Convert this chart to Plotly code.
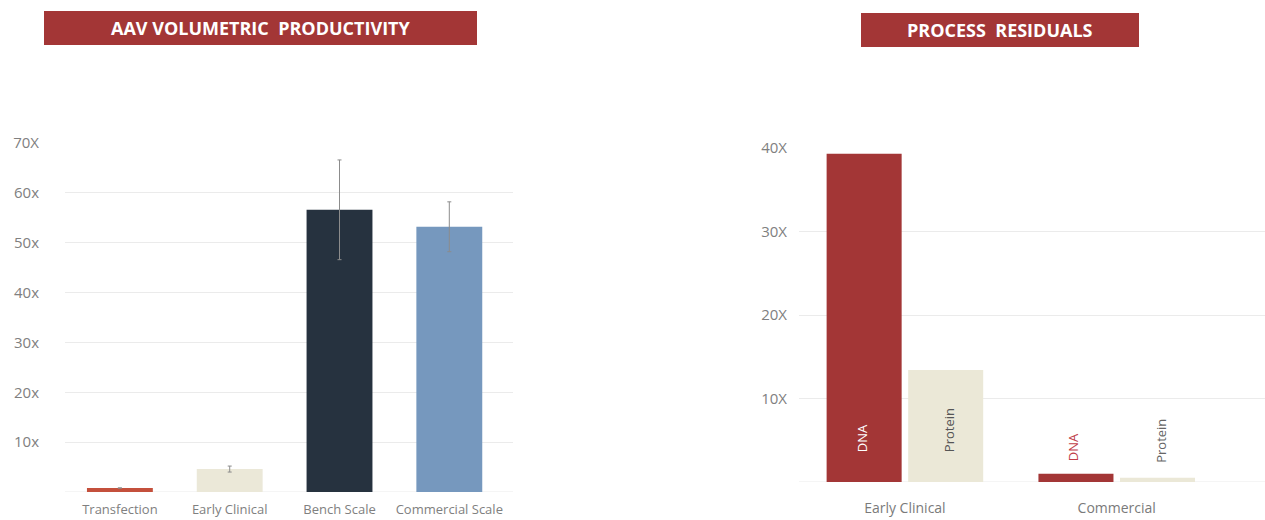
import plotly.graph_objects as go

# ---- data ----
left_categories = ["Transfection", "Early Clinical", "Bench Scale", "Commercial Scale"]
left_values = [0.8, 4.6, 56.6, 53.2]
left_errors = [0.0, 0.6, 10.0, 5.0]
left_colors = ["#c4503c", "#ebe8d8", "#26323f", "#7698be"]
left_tickvals = [10, 20, 30, 40, 50, 60, 70]
left_ticktext = ["10x", "20x", "30x", "40x", "50x", "60x", "70X"]

right_categories = ["Early Clinical", "Commercial"]
dna_values = [39.3, 1.0]
protein_values = [13.4, 0.5]
right_tickvals = [10, 20, 30, 40]
right_ticktext = ["10X", "20X", "30X", "40X"]

W, H = 1265, 520
FONT = "Open Sans"
RED = "#a33636"
BEIGE = "#ebe8d7"
GRID = "#ebebeb"
TICK = "#808080"

def px(x):
    return x / W

def py(y):
    return 1 - y / H

fig = go.Figure()

fig.add_trace(go.Bar(
    x=left_categories, y=left_values,
    marker=dict(color=left_colors, line=dict(width=0)),
    error_y=dict(type="data", array=left_errors, color="#8c8c8c", thickness=1, width=2),
    width=0.6, xaxis="x", yaxis="y", showlegend=False,
))

fig.add_trace(go.Bar(
    x=right_categories, y=dna_values, name="DNA",
    marker=dict(color=RED, line=dict(width=0)),
    xaxis="x2", yaxis="y2", showlegend=False,
))
fig.add_trace(go.Bar(
    x=right_categories, y=protein_values, name="Protein",
    marker=dict(color=BEIGE, line=dict(width=0)),
    xaxis="x2", yaxis="y2", showlegend=False,
))

axis_common = dict(showline=False, zeroline=False, fixedrange=True, automargin=False)

fig.update_layout(
    template="none",
    width=W, height=H,
    margin=dict(l=0, r=0, t=0, b=0, autoexpand=False),
    paper_bgcolor="white", plot_bgcolor="white",
    font=dict(family=FONT, color=TICK),
    barmode="group", bargap=0.23, bargroupgap=0.08,
    xaxis=dict(domain=[px(65), px(513)], range=[-0.5, 3.58], type="category",
               showgrid=False, ticks="outside", ticklen=5, tickcolor="rgba(0,0,0,0)",
               tickfont=dict(size=13, color=TICK), anchor="y", **axis_common),
    yaxis=dict(domain=[py(492), py(143)], range=[0, 70], tickvals=left_tickvals,
               ticktext=left_ticktext, showgrid=True, gridcolor=GRID, gridwidth=1,
               ticks="outside", ticklen=22, tickcolor="rgba(0,0,0,0)",
               tickfont=dict(size=15, color=TICK), anchor="x", **axis_common),
    xaxis2=dict(domain=[px(799), 1.0], range=[-0.5, 1.7], type="category",
                showgrid=False, ticks="outside", ticklen=13, tickcolor="rgba(0,0,0,0)",
                tickfont=dict(size=14, color="#7a7a7a"), anchor="y2", **axis_common),
    yaxis2=dict(domain=[py(482), py(148)], range=[0, 40], tickvals=right_tickvals,
                ticktext=right_ticktext, showgrid=True, gridcolor=GRID, gridwidth=1,
                ticks="outside", ticklen=8, tickcolor="rgba(0,0,0,0)",
                tickfont=dict(size=15, color=TICK), anchor="x2", **axis_common),
)

# baselines
fig.add_shape(type="line", xref="paper", yref="y", x0=px(65), x1=px(513), y0=0, y1=0,
              line=dict(color=GRID, width=1), layer="below")
fig.add_shape(type="line", xref="paper", yref="y2", x0=px(799), x1=1.0, y0=0, y1=0,
              line=dict(color=GRID, width=1), layer="below")

# title boxes
for (x0, x1, y0, y1, label) in [
    (44, 477, 11, 45, "AAV VOLUMETRIC  PRODUCTIVITY"),
    (861, 1139, 13, 47, "PROCESS  RESIDUALS"),
]:
    fig.add_shape(type="rect", xref="paper", yref="paper",
                  x0=px(x0), x1=px(x1), y0=py(y1), y1=py(y0),
                  fillcolor=RED, line=dict(width=0))
    fig.add_annotation(xref="paper", yref="paper", x=px((x0 + x1) / 2), y=py((y0 + y1) / 2),
                       text="<b>" + label.replace("  ", "&nbsp;&nbsp;") + "</b>",
                       showarrow=False, font=dict(family=FONT, size=18, color="white"),
                       xanchor="center", yanchor="middle")

# in-bar labels (rotated)
bar_labels = [
    ("Early Clinical", -43.5, 5.3, "DNA", "white"),
    ("Early Clinical", 44, 6.2, "Protein", "#555555"),
    ("Commercial", -43.5, 4.2, "DNA", "#c0404a"),
    ("Commercial", 44, 4.9, "Protein", "#666666"),
]
for cat, dx, yv, txt, col in bar_labels:
    fig.add_annotation(xref="x2", yref="y2", x=cat, y=yv, xshift=dx, text=txt,
                       textangle=-90, showarrow=False,
                       font=dict(family=FONT, size=13, color=col))

fig.write_html(
    "out.html",
    config={"displayModeBar": False},
    post_script=(
        "document.documentElement.style.overflow='hidden';"
        "document.body.style.margin='0';document.body.style.overflow='hidden';"
        "var gd=document.getElementById('{plot_id}');"
        "gd.style.position='fixed';gd.style.top='0px';gd.style.left='0px';"
    ),
)
